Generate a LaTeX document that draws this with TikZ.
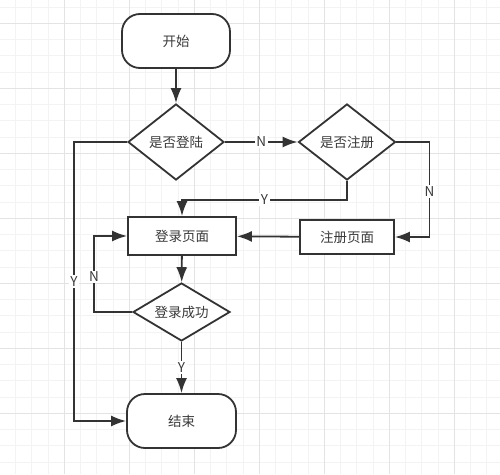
\documentclass[tikz,border=0pt]{standalone}
\usepackage{fontspec}
\setmainfont{Noto Sans CJK SC}
\usetikzlibrary{shapes.geometric,arrows.meta}
\definecolor{linecol}{HTML}{333333}
\definecolor{textcol}{HTML}{3A3A3A}
\definecolor{gridminor}{HTML}{F3F3F3}
\definecolor{gridmajor}{HTML}{E3E3E3}
\begin{document}
\begin{tikzpicture}[x=1pt, y=-1pt,
        font=\fontsize{13.5}{16}\selectfont,
        every node/.style={text=textcol},
        terminal/.style={draw=linecol, line width=1.8pt, fill=white, rounded corners=18pt, minimum width=108pt, minimum height=54pt},
        process/.style={draw=linecol, line width=1.8pt, fill=white, minimum width=108pt, minimum height=38pt},
        decision/.style={diamond, draw=linecol, line width=1.8pt, fill=white, inner sep=0pt, aspect=1.6, minimum width=96pt, minimum height=76pt},
        arr/.style={draw=linecol, line width=1.8pt, -{Latex[length=15pt,width=11pt]}},
        lbl/.style={fill=white, inner sep=1.5pt}]
                \useasboundingbox (0, 0) rectangle (500, 474);
                \fill[white] (0, 0) rectangle (500, 474);

                % background grid
                \foreach \i in {0,...,31} {
                    \draw[gridminor, line width=1pt] (-0.7+16.25*\i, 0) -- (-0.7+16.25*\i, 474);
                }
                \foreach \i in {0,...,29} {
                    \draw[gridminor, line width=1pt] (0, 7.05+16.25*\i) -- (500, 7.05+16.25*\i);
                }
                \foreach \i in {0,...,7} {
                    \draw[gridmajor, line width=1pt] (-0.7+65*\i, 0) -- (-0.7+65*\i, 474);
                    \draw[gridmajor, line width=1pt] (0, 23.3+65*\i) -- (500, 23.3+65*\i);
                }

                \node[terminal] (start) at (176, 41) {开始};
                \node[decision] (islogin) at (176, 142) {是否登陆};
                \node[decision, minimum width=97pt] (isreg) at (347, 142) {是否注册};
                \node[process] (loginpage) at (182, 236) {登录页面};
                \node[process, minimum width=94pt, minimum height=34pt] (regpage) at (347, 237) {注册页面};
                \node[decision, minimum width=97pt, minimum height=58pt] (loginok) at (181.5, 312) {登录成功};
                \node[terminal, minimum width=109pt] (finish) at (181.5, 421) {结束};

                \coordinate (yleft) at (74, 142);

                \draw[arr] (start) -- (islogin);
                \draw[arr] (islogin.west) -- (yleft) |- node[lbl, pos=0.25] {Y} (finish.west);
                \draw[arr] (islogin.east) -- node[lbl] {N} (isreg.west);
                \draw[arr] (isreg.south) -- ++(0, 19) -| node[lbl, pos=0.25] {Y} (loginpage.north);
                \draw[arr] (isreg.east) -- ++(33, 0) |- node[lbl, pos=0.26] {N} (regpage.east);
                \draw[arr] (regpage) -- (loginpage);
                \draw[arr] (loginpage) -- (loginok);
                \draw[arr] (loginok.west) -- ++(-38, 0) |- node[lbl, pos=0.23] {N} (loginpage.west);
                \draw[arr] (loginok) -- node[lbl] {Y} (finish);
            \end{tikzpicture}
\end{document}
